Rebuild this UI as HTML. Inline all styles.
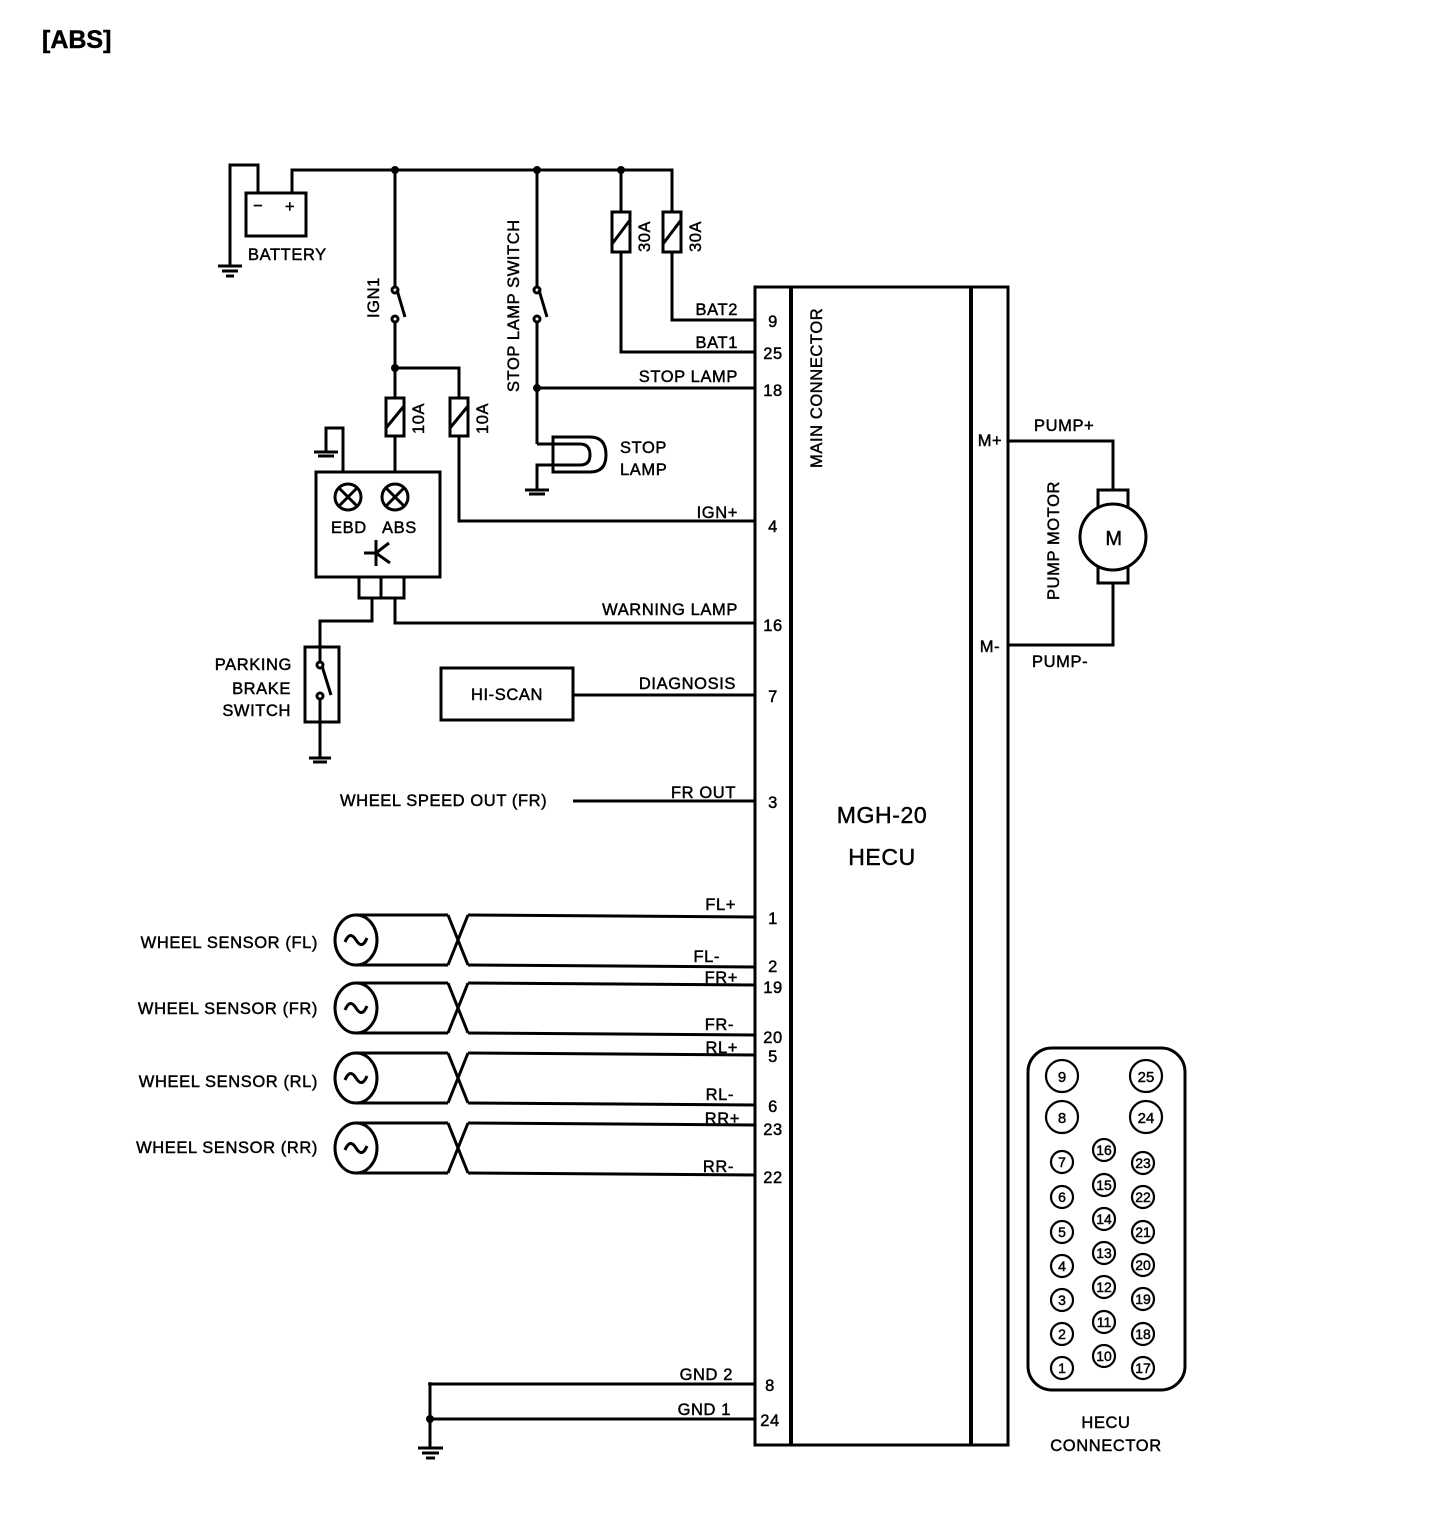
<!DOCTYPE html>
<html><head><meta charset="utf-8"><style>
html,body{margin:0;padding:0;background:#fff;}
svg{display:block;}
text{font-family:"Liberation Sans",Arial,sans-serif;fill:#000;stroke:#000;stroke-width:0.45;letter-spacing:0.6px;}
</style></head><body>
<svg width="1440" height="1534" viewBox="0 0 1440 1534" xmlns="http://www.w3.org/2000/svg">
<g stroke="#000" stroke-width="3" fill="none">
<!-- battery -->
<polyline points="230,266 230,165 258,165 258,193"/>
<polyline points="292,193 292,170 672,170 672,212"/>
<rect x="246" y="193" width="60" height="43"/>
<line x1="218" y1="266" x2="242" y2="266"/><line x1="222" y1="271" x2="238" y2="271"/><line x1="226" y1="276" x2="234" y2="276"/>
<!-- IGN1 -->
<line x1="395" y1="170" x2="395" y2="287"/>
<circle cx="395" cy="290" r="3" fill="#fff"/>
<line x1="397" y1="290" x2="405" y2="317"/>
<circle cx="395" cy="319" r="3" fill="#fff"/>
<line x1="395" y1="322" x2="395" y2="398"/>
<polyline points="395,368 459,368 459,398"/>
<rect x="386" y="398" width="18" height="38"/><line x1="386" y1="428" x2="404" y2="406"/>
<rect x="450" y="398" width="18" height="38"/><line x1="450" y1="428" x2="468" y2="406"/>
<line x1="395" y1="436" x2="395" y2="472"/>
<polyline points="459,436 459,521 755,521"/>
<!-- warning box -->
<rect x="316" y="472" width="124" height="105"/>
<polyline points="343,472 343,428 326,428 326,452"/>
<line x1="314" y1="452" x2="338" y2="452"/><line x1="318" y1="456" x2="334" y2="456"/>
<circle cx="348" cy="497" r="13"/><line x1="339" y1="488" x2="357" y2="506"/><line x1="357" y1="488" x2="339" y2="506"/>
<circle cx="395" cy="497" r="13"/><line x1="386" y1="488" x2="404" y2="506"/><line x1="404" y1="488" x2="386" y2="506"/>
<line x1="376" y1="540" x2="376" y2="566"/><line x1="364" y1="553" x2="376" y2="553"/><line x1="376" y1="553" x2="389" y2="543"/><line x1="376" y1="553" x2="390" y2="563"/>
<rect x="359" y="577" width="45" height="21"/><line x1="381" y1="577" x2="381" y2="598"/>
<polyline points="372,598 372,621 320,621 320,647"/>
<polyline points="395,598 395,623 755,623"/>
<!-- parking brake -->
<rect x="305" y="647" width="34" height="75"/>
<line x1="320" y1="647" x2="320" y2="662"/>
<circle cx="320" cy="665" r="3" fill="#fff"/>
<line x1="322" y1="666" x2="331" y2="695"/>
<circle cx="320" cy="696" r="3" fill="#fff"/>
<line x1="320" y1="699" x2="320" y2="758"/>
<line x1="309" y1="758" x2="331" y2="758"/><line x1="313" y1="762" x2="327" y2="762"/>
<!-- stop lamp switch -->
<line x1="537" y1="170" x2="537" y2="287"/>
<circle cx="537" cy="290" r="3" fill="#fff"/>
<line x1="539" y1="290" x2="547" y2="317"/>
<circle cx="537" cy="319" r="3" fill="#fff"/>
<line x1="537" y1="322" x2="537" y2="444"/>
<line x1="537" y1="388" x2="755" y2="388"/>
<line x1="537" y1="444" x2="553" y2="444"/>
<polyline points="537,490 537,465 553,465"/>
<path d="M553,437 L590,437 Q606,437 606,455 Q606,472 590,472 L553,472 Z"/>
<path d="M553,444 L580,444 Q590,444 590,455 Q590,465 580,465 L553,465"/>
<line x1="525" y1="490" x2="549" y2="490"/><line x1="529" y1="494" x2="545" y2="494"/>
<!-- 30A fuses -->
<line x1="621" y1="170" x2="621" y2="212"/>
<rect x="612" y="212" width="18" height="40"/><line x1="612" y1="244" x2="630" y2="220"/>
<rect x="663" y="212" width="18" height="40"/><line x1="663" y1="244" x2="681" y2="220"/>
<polyline points="672,252 672,320 755,320"/>
<polyline points="621,252 621,352 755,352"/>
<!-- HI-SCAN -->
<rect x="441" y="668" width="132" height="52"/>
<line x1="573" y1="695" x2="755" y2="695"/>
<line x1="573" y1="801" x2="755" y2="801"/>
<!-- sensors -->
<g id="s1">
<ellipse cx="356" cy="940" rx="21" ry="25"/>
<path d="M345,942 q5,-12 11,-2 q6,10 11,-2"/>
<line x1="356" y1="915" x2="448" y2="915"/><line x1="356" y1="965" x2="448" y2="965"/>
<line x1="448" y1="915" x2="468" y2="965"/><line x1="468" y1="915" x2="448" y2="965"/>
<line x1="468" y1="915" x2="755" y2="917"/><line x1="468" y1="965" x2="755" y2="967"/>
</g>
<use href="#s1" y="68"/>
<use href="#s1" y="138"/>
<use href="#s1" y="208"/>
<!-- GND -->
<line x1="430" y1="1384" x2="755" y2="1384"/>
<line x1="430" y1="1419" x2="755" y2="1419"/>
<line x1="430" y1="1384" x2="430" y2="1448"/>
<line x1="418" y1="1448" x2="443" y2="1448"/><line x1="422" y1="1453" x2="439" y2="1453"/><line x1="426" y1="1458" x2="435" y2="1458"/>
<!-- HECU -->
<rect x="755" y="287" width="253" height="1158"/>
<line x1="791" y1="287" x2="791" y2="1445" stroke-width="4"/>
<line x1="971" y1="287" x2="971" y2="1445" stroke-width="4"/>
<!-- motor -->
<polyline points="1008,441 1113,441 1113,490"/>
<polyline points="1008,645 1113,645 1113,583"/>
<rect x="1098" y="490" width="30" height="23"/>
<rect x="1098" y="561" width="30" height="22"/>
<circle cx="1113" cy="537" r="33" fill="#fff"/>
<!-- connector -->
<rect x="1028" y="1048" width="157" height="342" rx="24"/>
</g>
<g fill="#000">
<circle cx="395" cy="170" r="4"/><circle cx="537" cy="170" r="4"/><circle cx="621" cy="170" r="4"/>
<circle cx="395" cy="368" r="4"/><circle cx="537" cy="388" r="4"/><circle cx="430" cy="1419" r="4"/><circle cx="430" cy="1384" r="2"/>
</g>
<text x="42" y="48" font-size="25" font-weight="bold" style="letter-spacing:0">[ABS]</text>
<g font-size="16.5">
<text x="253" y="211">−</text><text x="285" y="212">+</text>
<text x="248" y="260">BATTERY</text>
<text transform="translate(379,318) rotate(-90)">IGN1</text>
<text transform="translate(519,392) rotate(-90)">STOP LAMP SWITCH</text>
<text transform="translate(650,252) rotate(-90)">30A</text>
<text transform="translate(701,252) rotate(-90)">30A</text>
<text transform="translate(424,434) rotate(-90)">10A</text>
<text transform="translate(488,434) rotate(-90)">10A</text>
<text x="331" y="533">EBD</text><text x="382" y="533">ABS</text>
<text x="620" y="453">STOP</text><text x="620" y="475">LAMP</text>
<text x="292" y="670" text-anchor="end">PARKING</text>
<text x="291" y="694" text-anchor="end">BRAKE</text>
<text x="291" y="716" text-anchor="end">SWITCH</text>
<text x="507" y="700" text-anchor="middle">HI-SCAN</text>
<text x="340" y="806">WHEEL SPEED OUT (FR)</text>
<text x="318" y="948" text-anchor="end">WHEEL SENSOR (FL)</text>
<text x="318" y="1014" text-anchor="end">WHEEL SENSOR (FR)</text>
<text x="318" y="1087" text-anchor="end">WHEEL SENSOR (RL)</text>
<text x="318" y="1153" text-anchor="end">WHEEL SENSOR (RR)</text>
<g text-anchor="end">
<text x="738" y="315">BAT2</text><text x="738" y="348">BAT1</text><text x="738" y="382">STOP LAMP</text>
<text x="738" y="518">IGN+</text><text x="738" y="615">WARNING LAMP</text><text x="736" y="689">DIAGNOSIS</text>
<text x="736" y="798">FR OUT</text>
<text x="736" y="910">FL+</text><text x="720" y="962">FL-</text><text x="738" y="983">FR+</text>
<text x="734" y="1030">FR-</text><text x="738" y="1053">RL+</text><text x="734" y="1100">RL-</text>
<text x="740" y="1124">RR+</text><text x="734" y="1172">RR-</text>
<text x="733" y="1380">GND 2</text><text x="731" y="1415">GND 1</text>
</g>
<g text-anchor="middle">
<text x="773" y="327">9</text><text x="773" y="359">25</text><text x="773" y="396">18</text>
<text x="773" y="532">4</text><text x="773" y="631">16</text><text x="773" y="702">7</text>
<text x="773" y="808">3</text><text x="773" y="924">1</text><text x="773" y="972">2</text>
<text x="773" y="993">19</text><text x="773" y="1043">20</text><text x="773" y="1062">5</text>
<text x="773" y="1112">6</text><text x="773" y="1135">23</text><text x="773" y="1183">22</text>
<text x="770" y="1391">8</text><text x="770" y="1426">24</text>
</g>
<text transform="translate(822,468) rotate(-90)">MAIN CONNECTOR</text>
<text x="990" y="446" text-anchor="middle">M+</text>
<text x="990" y="652" text-anchor="middle">M-</text>
<text x="1034" y="431">PUMP+</text>
<text x="1032" y="667">PUMP-</text>
<text transform="translate(1059,600) rotate(-90)">PUMP MOTOR</text>
<text x="1114" y="545" font-size="20" text-anchor="middle">M</text>
<text x="1106" y="1428" text-anchor="middle">HECU</text>
<text x="1106" y="1451" text-anchor="middle">CONNECTOR</text>
</g>
<text x="882" y="823" font-size="23" text-anchor="middle">MGH-20</text>
<text x="882" y="865" font-size="23" text-anchor="middle">HECU</text>
<g stroke="#000" stroke-width="2.2" fill="none">
<circle cx="1062" cy="1076" r="16"/><circle cx="1146" cy="1076" r="16"/>
<circle cx="1062" cy="1117" r="16"/><circle cx="1146" cy="1117" r="16"/>
<circle cx="1062" cy="1162" r="11"/><circle cx="1062" cy="1197" r="11"/><circle cx="1062" cy="1232" r="11"/><circle cx="1062" cy="1266" r="11"/><circle cx="1062" cy="1300" r="11"/><circle cx="1062" cy="1334" r="11"/><circle cx="1062" cy="1368" r="11"/>
<circle cx="1104" cy="1150" r="11"/><circle cx="1104" cy="1185" r="11"/><circle cx="1104" cy="1219" r="11"/><circle cx="1104" cy="1253" r="11"/><circle cx="1104" cy="1287" r="11"/><circle cx="1104" cy="1322" r="11"/><circle cx="1104" cy="1356" r="11"/>
<circle cx="1143" cy="1163" r="11"/><circle cx="1143" cy="1197" r="11"/><circle cx="1143" cy="1232" r="11"/><circle cx="1143" cy="1265" r="11"/><circle cx="1143" cy="1299" r="11"/><circle cx="1143" cy="1334" r="11"/><circle cx="1143" cy="1368" r="11"/>
</g>
<g text-anchor="middle" font-size="15" style="letter-spacing:0">
<text x="1062" y="1082" style="letter-spacing:0">9</text><text x="1146" y="1082" style="letter-spacing:0">25</text><text x="1062" y="1123" style="letter-spacing:0">8</text><text x="1146" y="1123" style="letter-spacing:0">24</text>
<g font-size="14">
<text x="1062" y="1167" style="letter-spacing:0">7</text><text x="1062" y="1202" style="letter-spacing:0">6</text><text x="1062" y="1237" style="letter-spacing:0">5</text><text x="1062" y="1271" style="letter-spacing:0">4</text><text x="1062" y="1305" style="letter-spacing:0">3</text><text x="1062" y="1339" style="letter-spacing:0">2</text><text x="1062" y="1373" style="letter-spacing:0">1</text>
<text x="1104" y="1155" style="letter-spacing:0">16</text><text x="1104" y="1190" style="letter-spacing:0">15</text><text x="1104" y="1224" style="letter-spacing:0">14</text><text x="1104" y="1258" style="letter-spacing:0">13</text><text x="1104" y="1292" style="letter-spacing:0">12</text><text x="1104" y="1327" style="letter-spacing:0">11</text><text x="1104" y="1361" style="letter-spacing:0">10</text>
<text x="1143" y="1168" style="letter-spacing:0">23</text><text x="1143" y="1202" style="letter-spacing:0">22</text><text x="1143" y="1237" style="letter-spacing:0">21</text><text x="1143" y="1270" style="letter-spacing:0">20</text><text x="1143" y="1304" style="letter-spacing:0">19</text><text x="1143" y="1339" style="letter-spacing:0">18</text><text x="1143" y="1373" style="letter-spacing:0">17</text>
</g></g>
</svg>
</body></html>
